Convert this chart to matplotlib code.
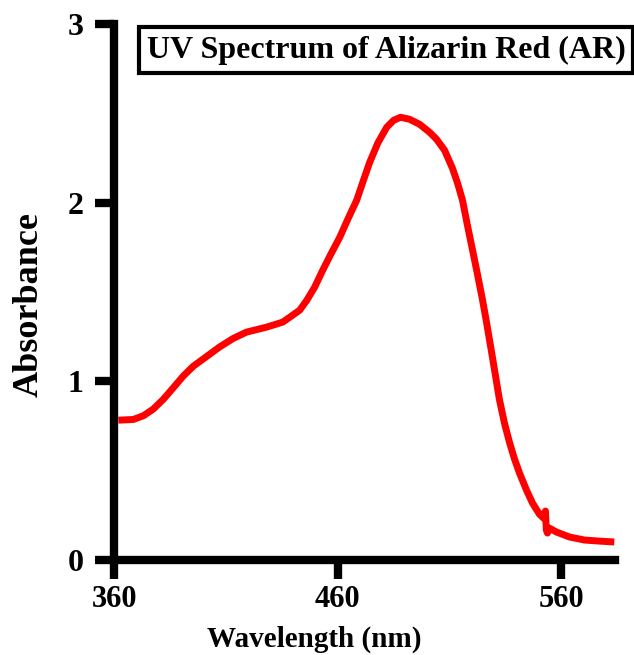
import numpy as np
import matplotlib.pyplot as plt

plt.rcParams['font.family'] = 'Liberation Serif'
plt.rcParams['font.weight'] = 'bold'

# wavelength (nm) and absorbance
wavelength = [361.9, 368.6, 373.1, 377.5, 382.0, 386.5, 390.9, 395.4, 401.4, 407.3,
              413.3, 419.2, 428.2, 435.4, 438.6, 443.0, 446.2, 449.7, 453.3, 456.9,
              460.9, 464.5, 468.5, 471.2, 474.3, 477.9, 481.9, 485.0, 488.1, 492.1,
              496.6, 501.1, 504.2, 507.8, 511.3, 513.6, 515.8, 518.0, 520.3, 522.5,
              524.7, 526.5, 529.2, 532.3, 534.6, 536.8, 539.0, 541.3, 544.4, 547.1,
              550.2, 552.0, 552.9, 553.3, 553.8, 554.6, 557.8, 563.6, 570.3, 577.0,
              583.7]
absorbance = [0.783, 0.787, 0.808, 0.845, 0.900, 0.965, 1.030, 1.085, 1.140, 1.194,
              1.241, 1.276, 1.304, 1.332, 1.360, 1.399, 1.455, 1.528, 1.623, 1.712,
              1.807, 1.908, 2.015, 2.115, 2.227, 2.334, 2.423, 2.462, 2.479, 2.468,
              2.440, 2.395, 2.356, 2.294, 2.194, 2.110, 2.015, 1.875, 1.735, 1.600,
              1.460, 1.335, 1.135, 0.900, 0.765, 0.660, 0.568, 0.487, 0.392, 0.319,
              0.257, 0.235, 0.274, 0.168, 0.151, 0.179, 0.157, 0.129, 0.112, 0.106,
              0.101]

xticks = [360, 460, 560]
yticks = [0, 1, 2, 3]

fig = plt.figure(figsize=(6.34, 6.55), dpi=100)
ax = fig.add_axes([0.180, 0.145, 0.790, 0.818])

ax.plot(wavelength, absorbance, color='#ff0000', lw=5,
        solid_joinstyle='round', solid_capstyle='butt')

ax.set_xlim(360, 584)
ax.set_ylim(0, 3)
ax.set_xticks(xticks)
ax.set_yticks(yticks)
ax.set_xticklabels([str(t) for t in xticks])
ax.set_yticklabels([str(t) for t in yticks])

for s in ['top', 'right']:
    ax.spines[s].set_visible(False)
for s in ['left', 'bottom']:
    ax.spines[s].set_linewidth(6)
ax.tick_params(axis='both', direction='out', length=14, width=6)
ax.tick_params(axis='y', pad=8, labelsize=23)
ax.tick_params(axis='x', pad=4, labelsize=22)

ax.set_xlabel('Wavelength (nm)', fontsize=21, fontweight='bold')
ax.set_ylabel('Absorbance', fontsize=26, fontweight='bold')
ax.xaxis.set_label_coords(0.40, -0.122)
ax.yaxis.set_label_coords(-0.137, 0.476)

fig.text(386/634, 1-50/655, 'UV Spectrum of Alizarin Red (AR)', fontsize=23,
         fontweight='bold', ha='center', va='center',
         bbox=dict(boxstyle='square,pad=0.25', fc='white', ec='black', lw=3))

fig.savefig('out.png', dpi=100)
